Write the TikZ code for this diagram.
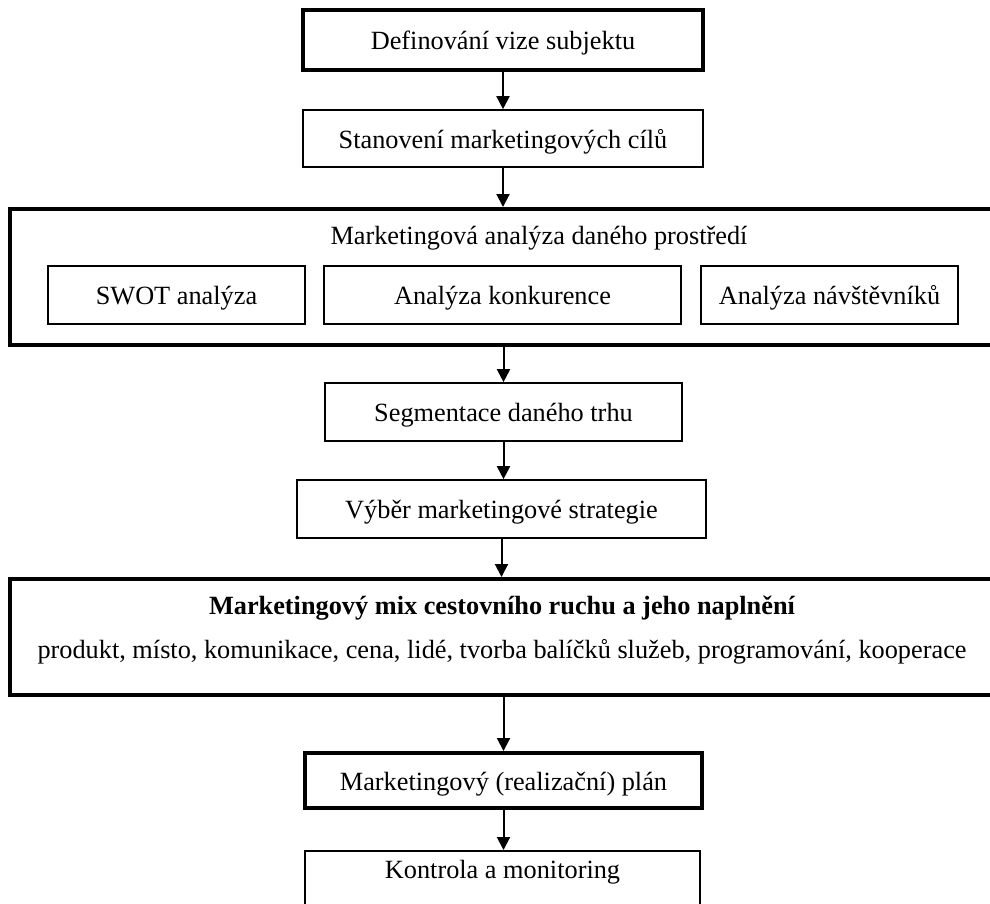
\documentclass[tikz,border=0pt]{standalone}
\usepackage{fontspec}
\setmainfont{Liberation Serif}
\usetikzlibrary{arrows.meta}
\begin{document}
\begin{tikzpicture}[x=1pt,y=-1pt,
  every node/.style={font=\fontsize{26.3}{30}\selectfont, inner sep=0pt,
    text height=19pt, text depth=0pt},
  thinbox/.style={draw, line width=1.7pt},
  thickbox/.style={draw, line width=4pt},
  framebox/.style={draw, line width=4pt, anchor=north west},
  flow/.style={line width=2pt, -{Triangle[length=13pt,width=13pt]}}]
\useasboundingbox (0,0) rectangle (990,903);
\clip (0,0) rectangle (990,903);

% vision and goals
\node[thickbox, minimum width=400, minimum height=60] (vize) at (503,40) {Definování vize subjektu};
\node[thinbox, minimum width=400, minimum height=57] (cile) at (503,138.5) {Stanovení marketingových cílů};

% analysis frame with its three parts
\node[framebox, minimum width=1070, minimum height=136] (analyza) at (8,207) {};
\node (analyzaTitul) at (539,234.5) {Marketingová analýza daného prostředí};
\node[thinbox, minimum width=257, minimum height=58] (swot) at (176.5,295) {SWOT analýza};
\node[thinbox, minimum width=357, minimum height=58] (konkurence) at (502.5,295) {Analýza konkurence};
\node[thinbox, minimum width=257, minimum height=58] (navstevnici) at (829.5,295) {Analýza návštěvníků};

% segmentation and strategy
\node[thinbox, minimum width=357, minimum height=58] (segment) at (503.5,412) {Segmentace daného trhu};
\node[thinbox, minimum width=409, minimum height=58] (vyber) at (501.5,509) {Výběr marketingové strategie};

% marketing mix frame
\node[framebox, minimum width=1070, minimum height=116] (mix) at (8,577) {};
\node[font=\fontsize{26.3}{30}\selectfont\bfseries] (mixTitul) at (502,604.5) {Marketingový mix cestovního ruchu a jeho naplnění};
\node (mixPrvky) at (502,648.5) {produkt, místo, komunikace, cena, lidé, tvorba balíčků služeb, programování, kooperace};

% plan and control
\node[thickbox, minimum width=397, minimum height=55] (plan) at (503.5,780.5) {Marketingový (realizační) plán};
\node[thinbox, minimum width=395, minimum height=70, anchor=north] (kontrola) at (502.5,850) {};
\node (kontrolaText) at (502.5,869) {Kontrola a monitoring};

% connectors
\draw[flow] (vize.south) -- (cile.north);
\draw[flow] (cile.south) -- (cile.south |- analyza.north);
\draw[flow] (analyza.south -| segment.north) -- (segment.north);
\draw[flow] (segment.south) -- (segment.south |- vyber.north);
\draw[flow] (vyber.south) -- (vyber.south |- mix.north);
\draw[flow] (mix.south -| plan.north) -- (plan.north);
\draw[flow] (plan.south) -- (plan.south |- kontrola.north);
\end{tikzpicture}
\end{document}
